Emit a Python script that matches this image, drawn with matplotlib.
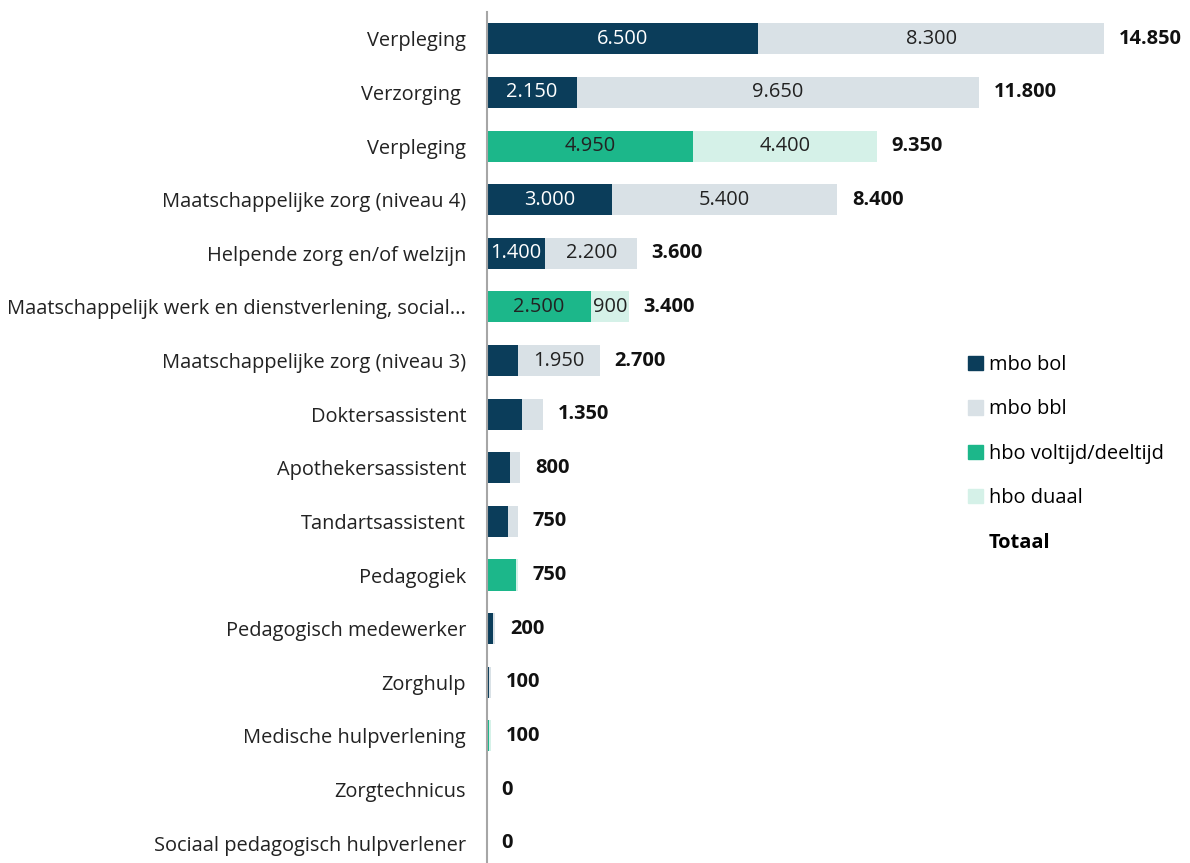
import matplotlib
matplotlib.use("Agg")
import matplotlib.pyplot as plt
from matplotlib.patches import Patch
import numpy as np

plt.rcParams['font.family'] = ['Open Sans', 'DejaVu Sans']

categories = ['Verpleging', 'Verzorging ', 'Verpleging', 'Maatschappelijke zorg (niveau 4)',
              'Helpende zorg en/of welzijn', 'Maatschappelijk werk en dienstverlening, social...',
              'Maatschappelijke zorg (niveau 3)', 'Doktersassistent', 'Apothekersassistent',
              'Tandartsassistent', 'Pedagogiek', 'Pedagogisch medewerker', 'Zorghulp',
              'Medische hulpverlening', 'Zorgtechnicus', 'Sociaal pedagogisch hulpverlener']
mbo_bol = [6500, 2150, 0, 3000, 1400, 0, 750, 850, 550, 500, 0, 150, 50, 0, 0, 0]
mbo_bbl = [8300, 9650, 0, 5400, 2200, 0, 1950, 500, 250, 250, 0, 50, 50, 0, 0, 0]
hbo_vd = [0, 0, 4950, 0, 0, 2500, 0, 0, 0, 0, 700, 0, 0, 50, 0, 0]
hbo_duaal = [0, 0, 4400, 0, 0, 900, 0, 0, 0, 0, 50, 0, 0, 50, 0, 0]
totaal = [14850, 11800, 9350, 8400, 3600, 3400, 2700, 1350, 800, 750, 750, 200, 100, 100, 0, 0]

series = [('mbo bol', mbo_bol, '#0b3d5a', 'white'),
          ('mbo bbl', mbo_bbl, '#d9e1e6', '#222222'),
          ('hbo voltijd/deeltijd', hbo_vd, '#1cb78a', '#222222'),
          ('hbo duaal', hbo_duaal, '#d5f1e8', '#222222')]

fs = 14.4

fig = plt.figure(figsize=(11.9, 8.63), dpi=100)
ax = fig.add_axes([487 / 1190, 0, 703 / 1190, 851 / 863])

y = np.arange(len(categories))
left = np.zeros(len(categories))
for name, vals, color, tcolor in series:
    vals = np.array(vals)
    ax.barh(y, vals, left=left, height=0.58, color=color, label=name)
    for i, v in enumerate(vals):
        if v >= 900:
            ax.text(left[i] + v / 2, y[i], f"{v:,}".replace(',', '.'), ha='center', va='center',
                    fontsize=fs, color=tcolor)
    left += vals

for i, t in enumerate(totaal):
    ax.annotate(f"{t:,}".replace(',', '.'), (left[i], y[i]), xytext=(10.5, 0),
                textcoords='offset points', ha='left', va='center',
                fontsize=fs, fontweight='bold', color='#111111')

ax.set_xlim(0, 16860)
ax.set_ylim(15.37, -0.5)
ax.set_yticks(y)
ax.set_yticklabels(categories, fontsize=fs, color='#222222')
ax.tick_params(axis='y', length=0, pad=15)
ax.set_xticks([])
for s in ['top', 'right', 'bottom']:
    ax.spines[s].set_visible(False)
ax.spines['left'].set_color('#a6a6a6')
ax.spines['left'].set_linewidth(1.5)

handles = [Patch(color=c, label=n) for n, _, c, _ in series]
handles.append(Patch(color='none', label='Totaal'))
leg = fig.legend(handles=handles, loc='upper left', bbox_to_anchor=(950 / 1190, 1 - 337 / 863),
                 frameon=False, fontsize=fs, handlelength=0.73, handleheight=0.73,
                 handletextpad=0.3, labelspacing=1.22)
leg.get_texts()[-1].set_fontweight('bold')

fig.savefig('out.png', dpi=100)
